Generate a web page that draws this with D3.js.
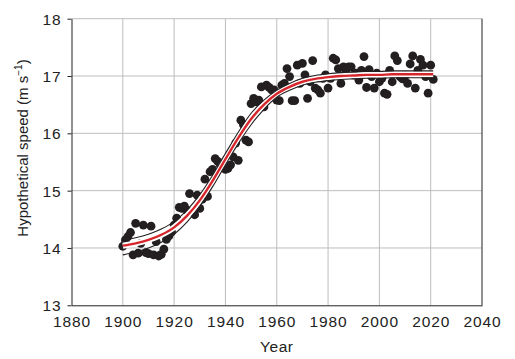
<!DOCTYPE html>
<html>
<head>
<meta charset="utf-8">
<script src="https://cdn.jsdelivr.net/npm/d3@7"></script>
<style>
  body { margin: 0; background: #fff; }
  svg { display: block; font-family: "Liberation Sans", Arial, sans-serif; }
</style>
</head>
<body>
<div id="chart"></div>
<script>
// Observed annual values, 1900-2021
const years = d3.range(1900, 2022);
const speeds = [
  14.03, 14.14, 14.20, 14.27, 13.88, 14.43, 13.91, 14.08, 14.40, 13.92,
  13.90, 14.38, 13.88, 14.11, 13.86, 13.89, 13.98, 14.15, 14.21, 14.28,
  14.40, 14.52, 14.71, 14.69, 14.73, 14.66, 14.95, 14.63, 14.58, 14.92,
  14.69, 14.85, 15.20, 14.90, 15.33, 15.37, 15.56, 15.51, 15.45, 15.42,
  15.37, 15.39, 15.45, 15.59, 15.83, 15.53, 16.23, 16.15, 15.88, 15.85,
  16.52, 16.61, 16.55, 16.58, 16.81, 16.46, 16.84, 16.80, 16.76, 16.76,
  16.58, 16.57, 16.84, 16.87, 17.13, 16.99, 16.57, 16.57, 17.19, 16.87,
  17.22, 17.02, 16.61, 16.90, 17.27, 16.79, 16.76, 16.70, 16.96, 17.02,
  16.79, 16.96, 17.31, 17.28, 17.13, 16.87, 17.16, 17.10, 17.16, 17.16,
  17.02, 17.05, 16.93, 17.10, 17.34, 16.80, 17.11, 16.99, 16.79, 17.05,
  16.90, 16.96, 16.70, 16.68, 17.10, 16.90, 17.35, 17.27, 16.99, 16.95,
  17.00, 16.87, 17.21, 17.35, 16.79, 17.10, 17.29, 17.19, 16.99, 16.70,
  17.19, 16.94
];

// Fitted curve and its confidence limits, read at 5-year steps
const fitYears = [1900, 1905, 1910, 1915, 1920, 1925, 1930, 1935, 1940, 1945,
  1950, 1955, 1960, 1965, 1970, 1975, 1980, 1985, 1990, 1995, 2000, 2005, 2010, 2015, 2021];
const fitMid = [14.04, 14.08, 14.14, 14.23, 14.36, 14.56, 14.83, 15.17, 15.55, 15.92,
  16.25, 16.50, 16.69, 16.81, 16.90, 16.95, 16.98, 17.00, 17.01, 17.02, 17.02, 17.03, 17.03, 17.03, 17.03];
const fitHigh = [14.14, 14.18, 14.24, 14.33, 14.46, 14.66, 14.93, 15.27, 15.65, 16.02,
  16.35, 16.58, 16.75, 16.87, 16.96, 17.01, 17.04, 17.06, 17.07, 17.08, 17.08, 17.09, 17.09, 17.09, 17.09];
const fitLow = [13.88, 13.93, 14.00, 14.10, 14.24, 14.45, 14.73, 15.07, 15.45, 15.82,
  16.15, 16.42, 16.63, 16.75, 16.84, 16.89, 16.92, 16.94, 16.95, 16.96, 16.96, 16.97, 16.97, 16.97, 16.97];

const xTicks = [1880, 1900, 1920, 1940, 1960, 1980, 2000, 2020, 2040];
const yTicks = [13, 14, 15, 16, 17, 18];

const width = 515, height = 359;
const plot = { left: 71.5, right: 482, top: 18.7, bottom: 305.3 };

const svg = d3.select("#chart").append("svg")
  .attr("width", width).attr("height", height);

const x = d3.scaleLinear().domain([1880, 2040]).range([plot.left, plot.right]);
const y = d3.scaleLinear().domain([13, 18]).range([plot.bottom, plot.top]);

// Grid
svg.append("g").selectAll("line").data(xTicks.slice(1, -1)).join("line")
  .attr("x1", d => x(d)).attr("x2", d => x(d))
  .attr("y1", plot.top).attr("y2", plot.bottom)
  .style("stroke", "#bdbdbd").style("stroke-width", 1);
svg.append("g").selectAll("line").data(yTicks.slice(1)).join("line")
  .attr("x1", plot.left).attr("x2", plot.right)
  .attr("y1", d => y(d)).attr("y2", d => y(d))
  .style("stroke", "#bdbdbd").style("stroke-width", 1);

// Right border
svg.append("line")
  .attr("x1", plot.right).attr("x2", plot.right).attr("y1", plot.top).attr("y2", plot.bottom)
  .style("stroke", "#222").style("stroke-width", 1);

// Axes
const yAxis = d3.axisLeft(y).tickValues(yTicks).tickSize(4).tickPadding(6)
  .tickFormat(d3.format("d")).tickSizeOuter(0);
const xAxis = d3.axisBottom(x).tickValues(xTicks).tickSize(0).tickPadding(11)
  .tickFormat(d3.format("d")).tickSizeOuter(0);

const gy = svg.append("g").attr("transform", `translate(${plot.left},0)`).call(yAxis);
const gx = svg.append("g").attr("transform", `translate(0,${plot.bottom})`).call(xAxis);

[gx, gy].forEach(g => {
  g.attr("font-family", null).attr("font-size", null);
  g.selectAll(".domain").style("stroke", "#222");
  g.selectAll(".tick line").style("stroke", "#222");
  g.selectAll("text")
    .style("font-size", "15.5px")
    .style("letter-spacing", "0.9px")
    .style("fill", "#222");
});
gy.selectAll("text").attr("dy", "0.36em");

// Points
svg.append("g").selectAll("circle").data(years).join("circle")
  .attr("cx", d => x(d))
  .attr("cy", (d, i) => y(speeds[i]))
  .attr("r", 4.4)
  .style("fill", "#231f20");

// Fitted curve with limits
const line = vals => d3.line()
  .x(d => x(d))
  .y((d, i) => y(vals[i]))
  .curve(d3.curveMonotoneX)(fitYears);

svg.append("path").attr("d", line(fitMid))
  .style("fill", "none").style("stroke", "#fff").style("stroke-width", 6);
[fitHigh, fitLow].forEach(v => {
  svg.append("path").attr("d", line(v))
    .style("fill", "none").style("stroke", "#231f20").style("stroke-width", 1.1);
});
svg.append("path").attr("d", line(fitMid))
  .style("fill", "none").style("stroke", "#d7262b").style("stroke-width", 2.4);

// Axis titles
svg.append("text")
  .attr("x", (plot.left + plot.right) / 2).attr("y", 351.5)
  .attr("text-anchor", "middle")
  .style("font-size", "15.5px").style("letter-spacing", "0.6px").style("fill", "#222")
  .text("Year");

const yt = svg.append("text")
  .attr("transform", "translate(28,148) rotate(-90)")
  .attr("text-anchor", "middle")
  .style("font-size", "15px").style("fill", "#222");
yt.append("tspan").text("Hypothetical speed (m s");
yt.append("tspan").attr("dy", "-6").style("font-size", "10px").text("\u22121");
yt.append("tspan").attr("dy", "6").text(")");
</script>
</body>
</html>
